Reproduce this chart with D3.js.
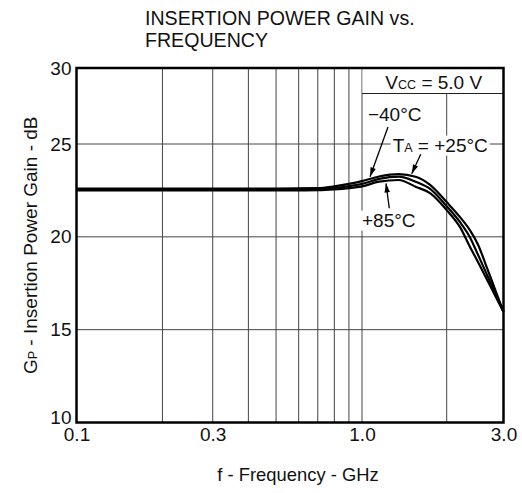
<!DOCTYPE html>
<html>
<head>
<meta charset="utf-8">
<script src="https://cdn.jsdelivr.net/npm/d3@7"></script>
<style>
  body { margin: 0; background: #fff; }
  text { font-family: 'Liberation Sans', Arial, Helvetica, sans-serif; fill: #111; }
</style>
</head>
<body>
<script>
// values
var freq        = [0.1, 0.2, 0.3, 0.5, 0.7, 0.8, 0.9, 1.0, 1.15, 1.35, 1.55, 1.75, 2.0, 2.2, 2.36, 2.5, 2.67, 2.83, 3.0];
var gainMinus40 = [22.6, 22.6, 22.6, 22.6, 22.62, 22.72, 22.85, 23.0, 23.25, 23.38, 23.24, 22.79, 21.87, 21.06, 20.36, 19.59, 18.3, 17.13, 15.96];
var gainPlus25  = [22.55, 22.55, 22.55, 22.55, 22.56, 22.63, 22.73, 22.85, 23.12, 23.24, 22.97, 22.57, 21.65, 20.79, 19.98, 19.04, 17.94, 16.94, 15.96];
var gainPlus85  = [22.5, 22.5, 22.5, 22.5, 22.51, 22.55, 22.62, 22.72, 22.97, 23.06, 22.7, 22.34, 21.44, 20.52, 19.47, 18.65, 17.68, 16.81, 15.96];

var xTickValues = [0.1, 0.3, 1, 3];
var xTickLabels = ["0.1", "0.3", "1.0", "3.0"];
var yTickValues = [10, 15, 20, 25, 30];
var xGridValues = [0.2, 0.3, 0.4, 0.5, 0.6, 0.7, 0.8, 0.9, 1, 2];
var yGridValues = [15, 20, 25];

var width = 522, height = 493;
var margin = {top: 68, right: 18.5, bottom: 70.5, left: 76.5};
var fs = 19;

var svg = d3.select("body").append("svg")
    .attr("width", width)
    .attr("height", height);

// scales calibrated on the printed grid (the original is not quite uniform)
var x = d3.scaleLog()
    .domain([0.1, 1, 2, 3])
    .range([margin.left, 362, 446.7, width - margin.right]);
var y = d3.scaleLinear()
    .domain([10, 25, 30])
    .range([height - margin.bottom, 144, margin.top]);

// grid
var grid = svg.append("g").attr("stroke", "#444").attr("stroke-width", 1);
grid.selectAll(".vgrid")
    .data(xGridValues)
  .enter().append("line")
    .attr("x1", function(d) { return x(d); })
    .attr("x2", function(d) { return x(d); })
    .attr("y1", y(30))
    .attr("y2", y(10));
grid.selectAll(".hgrid")
    .data(yGridValues)
  .enter().append("line")
    .attr("x1", x(0.1))
    .attr("x2", x(3))
    .attr("y1", function(d) { return y(d); })
    .attr("y2", function(d) { return y(d); });

// Vcc box in the top right corner
var boxH = 25.5;
svg.append("rect")
    .attr("x", x(1) + 0.5)
    .attr("y", y(30))
    .attr("width", x(3) - x(1) - 0.5)
    .attr("height", boxH)
    .attr("fill", "#fff");
svg.append("line")
    .attr("x1", x(1)).attr("x2", x(3))
    .attr("y1", y(30) + boxH).attr("y2", y(30) + boxH)
    .attr("stroke", "#222").attr("stroke-width", 1.2);
var vcc = svg.append("text")
    .attr("x", (x(1) + x(3)) / 2 + 1)
    .attr("y", y(30) + 20.5)
    .attr("text-anchor", "middle")
    .style("font-size", fs + "px");
vcc.append("tspan").text("V");
vcc.append("tspan").style("font-size", "12.5px").text("CC");
vcc.append("tspan").text(" = 5.0 V");

// the three curves
var series = [gainMinus40, gainPlus25, gainPlus85];
var line = d3.line()
    .x(function(d, i) { return x(freq[i]); })
    .y(function(d) { return y(d); })
    .curve(d3.curveMonotoneX);

svg.selectAll(".curve")
    .data(series)
  .enter().append("path")
    .attr("class", "curve")
    .attr("fill", "none")
    .attr("stroke", "#000")
    .attr("stroke-width", 2.2)
    .attr("d", line);

// labels (positions in freq / dB)
var labelPos = [
  {parts: [["−40°C", fs]], f: 1.05, db: 26.53},
  {parts: [["T", fs], ["A", 12.5], [" = +25°C", fs]], f: 1.285, db: 24.59},
  {parts: [["+85°C", fs]], f: 1.0, db: 20.55}
];
labelPos.forEach(function(l) {
  var g = svg.append("g");
  var bg = g.append("rect").attr("fill", "#fff");
  var t = g.append("text")
      .attr("x", x(l.f))
      .attr("y", y(l.db));
  l.parts.forEach(function(p) {
    t.append("tspan").style("font-size", p[1] + "px").text(p[0]);
  });
  var b = t.node().getBBox();
  bg.attr("x", b.x - 2).attr("y", b.y + 1)
    .attr("width", b.width + 4).attr("height", b.height - 1);
});

// arrows
svg.append("defs").append("marker")
    .attr("id", "head")
    .attr("viewBox", "0 0 10 6")
    .attr("refX", 10).attr("refY", 3)
    .attr("markerWidth", 11).attr("markerHeight", 5.5)
    .attr("markerUnits", "userSpaceOnUse")
    .attr("orient", "auto")
  .append("path")
    .attr("d", "M0,0L10,3L0,6Z")
    .attr("fill", "#000");

var arrows = [
  {f0: 1.237, db0: 26.12, f1: 1.068, db1: 23.24},
  {f0: 1.617, db0: 24.45, f1: 1.502, db1: 23.4},
  {f0: 1.25, db0: 21.54, f1: 1.217, db1: 22.88}
];
svg.selectAll(".arrow")
    .data(arrows)
  .enter().append("line")
    .attr("x1", function(d) { return x(d.f0); })
    .attr("y1", function(d) { return y(d.db0); })
    .attr("x2", function(d) { return x(d.f1); })
    .attr("y2", function(d) { return y(d.db1); })
    .attr("stroke", "#000")
    .attr("stroke-width", 1.3)
    .attr("marker-end", "url(#head)");

// frame
svg.append("rect")
    .attr("x", x(0.1))
    .attr("y", y(30))
    .attr("width", x(3) - x(0.1))
    .attr("height", y(10) - y(30))
    .attr("fill", "none")
    .attr("stroke", "#000")
    .attr("stroke-width", 2.5);

// axes labels
var xAxis = svg.append("g")
    .attr("transform", "translate(0," + y(10) + ")")
    .call(d3.axisBottom(x)
        .tickValues(xTickValues)
        .tickFormat(function(d, i) { return xTickLabels[i]; })
        .tickSize(0)
        .tickPadding(5));
xAxis.select(".domain").remove();
xAxis.attr("font-size", fs).attr("font-family", null);

var yAxis = svg.append("g")
    .attr("transform", "translate(" + x(0.1) + ",0)")
    .call(d3.axisLeft(y)
        .tickValues(yTickValues)
        .tickFormat(d3.format("d"))
        .tickSize(0)
        .tickPadding(5));
yAxis.select(".domain").remove();
yAxis.attr("font-size", fs).attr("font-family", null);
yAxis.selectAll(".tick text")
    .filter(function(d) { return d === 10; })
    .attr("dy", "0.05em");

// titles
svg.append("text")
    .attr("x", 145).attr("y", 25)
    .style("font-size", "19.6px")
    .text("INSERTION POWER GAIN vs.");
svg.append("text")
    .attr("x", 145).attr("y", 47)
    .style("font-size", "19.6px")
    .text("FREQUENCY");

svg.append("text")
    .attr("x", 298)
    .attr("y", 481)
    .attr("text-anchor", "middle")
    .style("font-size", "18.4px")
    .text("f - Frequency - GHz");

var yt = svg.append("text")
    .attr("transform", "translate(37," + ((y(10) + y(30)) / 2) + ") rotate(-90)")
    .attr("text-anchor", "middle")
    .style("font-size", fs + "px");
yt.append("tspan").text("G");
yt.append("tspan").style("font-size", "12.5px").text("P");
yt.append("tspan").text(" - Insertion Power Gain - dB");
</script>
</body>
</html>
